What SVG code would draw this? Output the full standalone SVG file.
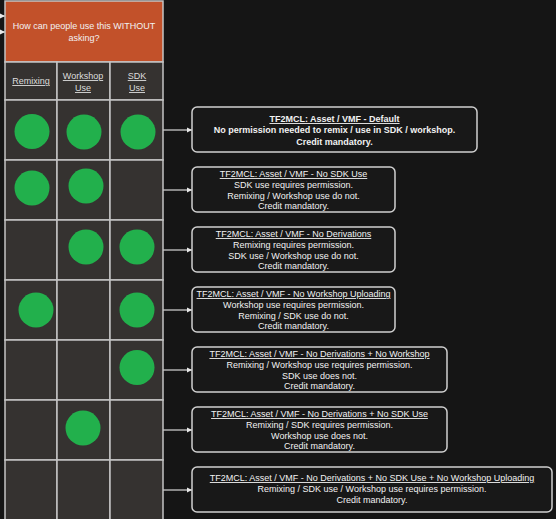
<svg xmlns="http://www.w3.org/2000/svg" width="556" height="519" viewBox="0 0 556 519">
<defs>
<marker id="ah" markerWidth="6" markerHeight="6" refX="5" refY="3" orient="auto" markerUnits="userSpaceOnUse">
<path d="M0,0.5 L5,3 L0,5.5 Z" fill="#e8e8e8"/>
</marker>
</defs>
<style>
text{font-family:"Liberation Sans",Arial,sans-serif;font-size:9px;fill:#f2f2f2;text-anchor:middle}
.hd{font-size:9px}
.col{fill:#dddddd;text-decoration:underline}
.t{text-decoration:underline}
.b{font-weight:bold}
.cell{fill:#353230;stroke:#c4c4c4;stroke-width:1.5}
.dot{fill:#22b04c}
.box{fill:#181818;stroke:#cfcfcf;stroke-width:1.5}
.con{stroke:#d8d8d8;stroke-width:1.2;fill:none;marker-end:url(#ah)}
</style>
<rect width="556" height="519" fill="#151515"/>

<g id="connectors">
<line class="con" x1="-8" y1="16" x2="5" y2="16"/>
<line class="con" x1="-8" y1="32" x2="5" y2="32"/>
<line class="con" x1="163" y1="130" x2="192" y2="130"/>
<line class="con" x1="163" y1="190" x2="192" y2="190"/>
<line class="con" x1="163" y1="250" x2="192" y2="250"/>
<line class="con" x1="163" y1="310" x2="192" y2="310"/>
<line class="con" x1="163" y1="370" x2="192" y2="370"/>
<line class="con" x1="163" y1="430" x2="192" y2="430"/>
<line class="con" x1="163" y1="490" x2="192" y2="490"/>
</g>

<g id="table">
<rect x="5" y="1" width="158" height="61" fill="#c2512a" stroke="#c4c4c4" stroke-width="1.5"/>
<text class="hd" x="84" y="29">How can people use this WITHOUT</text>
<text class="hd" x="84" y="41">asking?</text>

<rect class="cell" x="5" y="62" width="52" height="38"/>
<rect class="cell" x="57" y="62" width="53" height="38"/>
<rect class="cell" x="110" y="62" width="53" height="38"/>
<text class="col" x="31" y="84">Remixing</text>
<text class="col" x="83" y="79">Workshop</text>
<text class="col" x="83" y="91">Use</text>
<text class="col" x="137" y="79">SDK</text>
<text class="col" x="137" y="91">Use</text>

<g id="row1">
<rect class="cell" x="5" y="100" width="52" height="60"/>
<rect class="cell" x="57" y="100" width="53" height="60"/>
<rect class="cell" x="110" y="100" width="53" height="60"/>
<circle class="dot" cx="32" cy="131.5" r="17.5"/>
<circle class="dot" cx="84" cy="132" r="17.5"/>
<circle class="dot" cx="138" cy="132" r="17.5"/>
</g>
<g id="row2">
<rect class="cell" x="5" y="160" width="52" height="60"/>
<rect class="cell" x="57" y="160" width="53" height="60"/>
<rect class="cell" x="110" y="160" width="53" height="60"/>
<circle class="dot" cx="32" cy="188" r="17.5"/>
<circle class="dot" cx="86" cy="186" r="17.5"/>
</g>
<g id="row3">
<rect class="cell" x="5" y="220" width="52" height="60"/>
<rect class="cell" x="57" y="220" width="53" height="60"/>
<rect class="cell" x="110" y="220" width="53" height="60"/>
<circle class="dot" cx="86" cy="247" r="17.5"/>
<circle class="dot" cx="137" cy="247" r="17.5"/>
</g>
<g id="row4">
<rect class="cell" x="5" y="280" width="52" height="60"/>
<rect class="cell" x="57" y="280" width="53" height="60"/>
<rect class="cell" x="110" y="280" width="53" height="60"/>
<circle class="dot" cx="36" cy="310" r="17.5"/>
<circle class="dot" cx="137" cy="310" r="17.5"/>
</g>
<g id="row5">
<rect class="cell" x="5" y="340" width="52" height="60"/>
<rect class="cell" x="57" y="340" width="53" height="60"/>
<rect class="cell" x="110" y="340" width="53" height="60"/>
<circle class="dot" cx="137" cy="367.5" r="17.5"/>
</g>
<g id="row6">
<rect class="cell" x="5" y="400" width="52" height="60"/>
<rect class="cell" x="57" y="400" width="53" height="60"/>
<rect class="cell" x="110" y="400" width="53" height="60"/>
<circle class="dot" cx="83" cy="428" r="17.5"/>
</g>
<g id="row7">
<rect class="cell" x="5" y="460" width="52" height="70"/>
<rect class="cell" x="57" y="460" width="53" height="70"/>
<rect class="cell" x="110" y="460" width="53" height="70"/>
</g>
</g>

<g id="box1">
<rect class="box" x="192" y="107" width="285" height="45" rx="5"/>
<text class="b t" x="334.5" y="122">TF2MCL: Asset / VMF - Default</text>
<text class="b" x="334.5" y="133">No permission needed to remix / use in SDK / workshop.</text>
<text class="b" x="334.5" y="145">Credit mandatory.</text>
</g>
<g id="box2">
<rect class="box" x="192" y="167" width="203" height="45" rx="5"/>
<text class="t" x="293.5" y="177">TF2MCL: Asset / VMF - No SDK Use</text>
<text x="293.5" y="188">SDK use requires permission.</text>
<text x="293.5" y="198.5">Remixing / Workshop use do not.</text>
<text x="293.5" y="209">Credit mandatory.</text>
</g>
<g id="box3">
<rect class="box" x="192" y="227" width="203" height="45" rx="5"/>
<text class="t" x="293.5" y="237">TF2MCL: Asset / VMF - No Derivations</text>
<text x="293.5" y="248">Remixing requires permission.</text>
<text x="293.5" y="258.5">SDK use / Workshop use do not.</text>
<text x="293.5" y="269">Credit mandatory.</text>
</g>
<g id="box4">
<rect class="box" x="192" y="287" width="203" height="45" rx="5"/>
<text class="t" x="293.5" y="297">TF2MCL: Asset / VMF - No Workshop Uploading</text>
<text x="293.5" y="308">Workshop use requires permission.</text>
<text x="293.5" y="318.5">Remixing / SDK use do not.</text>
<text x="293.5" y="329">Credit mandatory.</text>
</g>
<g id="box5">
<rect class="box" x="192" y="347" width="255" height="45" rx="5"/>
<text class="t" x="319.5" y="357">TF2MCL: Asset / VMF - No Derivations + No Workshop</text>
<text x="319.5" y="368">Remixing / Workshop use requires permission.</text>
<text x="319.5" y="378.5">SDK use does not.</text>
<text x="319.5" y="389">Credit mandatory.</text>
</g>
<g id="box6">
<rect class="box" x="192" y="407" width="255" height="45" rx="5"/>
<text class="t" x="319.5" y="417">TF2MCL: Asset / VMF - No Derivations + No SDK Use</text>
<text x="319.5" y="428">Remixing / SDK requires permission.</text>
<text x="319.5" y="438.5">Workshop use does not.</text>
<text x="319.5" y="449">Credit mandatory.</text>
</g>
<g id="box7">
<rect class="box" x="192" y="467" width="360" height="45" rx="5"/>
<text class="t" x="372" y="481">TF2MCL: Asset / VMF - No Derivations + No SDK Use + No Workshop Uploading</text>
<text x="372" y="492">Remixing / SDK use / Workshop use requires permission.</text>
<text x="372" y="503">Credit mandatory.</text>
</g>
</svg>
